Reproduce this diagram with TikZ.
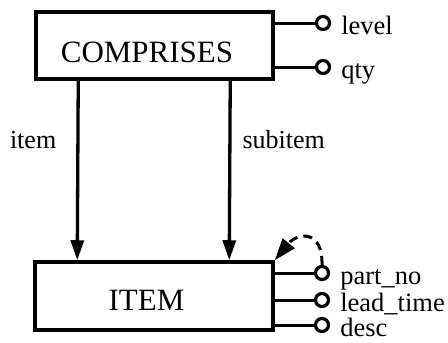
\documentclass[tikz,border=0pt]{standalone}
\usepackage{fontspec}
\setmainfont{Liberation Serif}
\usetikzlibrary{arrows.meta}

\begin{document}
\begin{tikzpicture}[x=1pt, y=-1pt, >={Triangle[length=20pt, width=13pt]},
        entity/.style={draw, line width=3.5pt, font=\fontsize{31}{36}\selectfont, execute at end node={\hspace*{15pt}}},
        attr/.style={draw, circle, line width=3.2pt, minimum size=13pt, inner sep=0pt},
        attrname/.style={anchor=base west, inner sep=0pt, xshift=10pt, yshift=-11pt, font=\fontsize{26.5}{30}\selectfont},
        rolename/.style={inner sep=0pt, font=\fontsize{26}{30}\selectfont}]
            \useasboundingbox (0,0) rectangle (448,343);

            \node[entity, minimum width=237pt, minimum height=67pt, text height=36pt, text depth=1.5pt] (comprises) at (154.5,45.5) {COMPRISES};
            \node[entity, minimum width=238pt, minimum height=68pt, text height=30pt, text depth=1.5pt] (item) at (154,296) {ITEM};

            \foreach \nm/\yy/\txt in {level/23/level, qty/67/qty} {
                \node[attr] (\nm) at (323,\yy) {};
                \node[attrname] (\nm-name) at (\nm.east) {\txt};
                \draw[line width=3pt] (comprises.east |- \nm) -- (\nm);
            }

            \foreach \nm/\yy/\txt in {partno/273/part\_no, leadtime/300/lead\_time, desc/325/desc} {
                \node[attr] (\nm) at (322,\yy) {};
                \node[attrname] (\nm-name) at (\nm.east) {\txt};
                \draw[line width=3pt] (item.east |- \nm) -- (\nm);
            }

            \draw[->, line width=3.3pt] ([xshift=44pt]comprises.south west) -- node[rolename, pos=0.377, anchor=base east, xshift=-20pt] (itemrole) {item} ([xshift=44pt]item.north west);
            \draw[->, line width=3.3pt] ([xshift=196pt]comprises.south west) -- node[rolename, pos=0.377, anchor=base west, xshift=11pt] (subitemrole) {subitem} ([xshift=196pt]item.north west);

            \draw[-{Triangle[length=22pt, width=15pt]}, line width=3pt, dash pattern=on 9pt off 6pt] (partno.north) .. controls (323,230) and (298,232) .. (item.north east);
        \end{tikzpicture}
\end{document}
